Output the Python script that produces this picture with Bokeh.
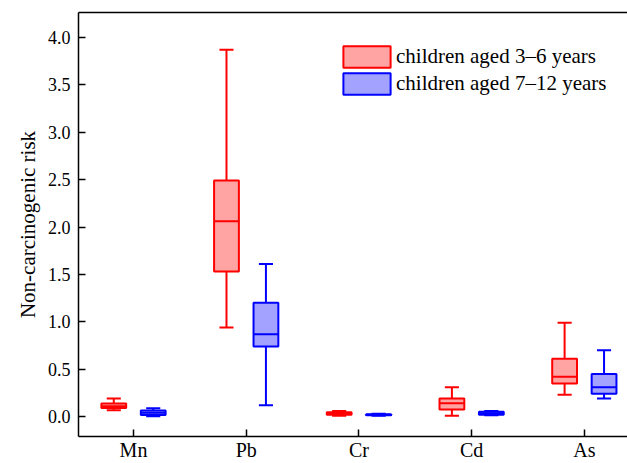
import numpy as np
from bokeh.plotting import figure
from bokeh.models import (Range1d, FixedTicker, LinearAxis, Legend, LegendItem,
                          ColumnDataSource)
from bokeh.embed import file_html
from bokeh.resources import INLINE

categories = ["Mn", "Pb", "Cr", "Cd", "As"]
series_names = ["children aged 3\u20136 years", "children aged 7\u201312 years"]

# children aged 3-6 years
young_min = [0.066, 0.94, 0.01, 0.01, 0.23]
young_q1 = [0.091, 1.53, 0.02, 0.075, 0.35]
young_med = [0.11, 2.06, 0.03, 0.14, 0.42]
young_q3 = [0.137, 2.49, 0.045, 0.19, 0.61]
young_max = [0.19, 3.87, 0.06, 0.31, 0.99]

# children aged 7-12 years
old_min = [0.003, 0.12, 0.01, 0.015, 0.19]
old_q1 = [0.018, 0.74, 0.015, 0.02, 0.24]
old_med = [0.04, 0.87, 0.02, 0.035, 0.31]
old_q3 = [0.063, 1.20, 0.025, 0.05, 0.45]
old_max = [0.087, 1.61, 0.03, 0.06, 0.70]

y_ticks = [0.0, 0.5, 1.0, 1.5, 2.0, 2.5, 3.0, 3.5, 4.0]

FONT = "Liberation Serif"

p = figure(width=627, height=463, output_backend="svg", toolbar_location=None,
           x_range=Range1d(-0.488, 4.383), y_range=Range1d(-0.21, 4.263),
           min_border_left=78, min_border_right=0, min_border_top=12,
           min_border_bottom=26)
p.outline_line_color = None
p.grid.visible = False
p.background_fill_color = "white"
p.border_fill_color = "white"

idx = np.arange(len(categories))
offset = 0.175
box_w = 0.22
cap_w = 0.125

groups = [
    (young_min, young_q1, young_med, young_q3, young_max, -offset, "#ff0000", "#ffa3a3"),
    (old_min, old_q1, old_med, old_q3, old_max, offset, "#0000ff", "#a3a3ff"),
]

legend_items = []
for (mn, q1, md, q3, mx, off, lc, fc), name in zip(groups, series_names):
    x = idx + off
    src = ColumnDataSource(dict(x=x, mn=mn, q1=q1, md=md, q3=q3, mx=mx,
                                cl=x - cap_w / 2, cr=x + cap_w / 2,
                                bl=x - box_w / 2, br=x + box_w / 2))
    p.segment(x0="x", y0="q3", x1="x", y1="mx", source=src, line_color=lc, line_width=2)
    p.segment(x0="x", y0="mn", x1="x", y1="q1", source=src, line_color=lc, line_width=2)
    p.segment(x0="cl", y0="mx", x1="cr", y1="mx", source=src, line_color=lc, line_width=2)
    p.segment(x0="cl", y0="mn", x1="cr", y1="mn", source=src, line_color=lc, line_width=2)
    box = p.vbar(x="x", width=box_w, top="q3", bottom="q1", source=src,
                 fill_color=fc, line_color=lc, line_width=2)
    p.segment(x0="bl", y0="md", x1="br", y1="md", source=src, line_color=lc, line_width=2)
    legend_items.append(LegendItem(label=name, renderers=[box]))

# axes
xa = p.xaxis[0]
xa.ticker = FixedTicker(ticks=list(idx))
xa.major_label_overrides = {int(i): c for i, c in zip(idx, categories)}
xa.major_tick_in = 7
xa.major_tick_out = 0
xa.minor_tick_line_color = None
xa.axis_line_width = 1.5
xa.major_tick_line_width = 1.5
xa.major_label_text_font = FONT
xa.major_label_text_font_size = "20px"
xa.major_label_text_color = "black"
xa.major_label_standoff = 2

ya = p.yaxis[0]
ya.ticker = FixedTicker(ticks=y_ticks)
ya.major_label_overrides = {t: f"{t:.1f}" for t in y_ticks}
ya.major_tick_in = 7
ya.major_tick_out = 0
ya.minor_tick_line_color = None
ya.axis_line_width = 1.5
ya.major_tick_line_width = 1.5
ya.major_label_text_font = FONT
ya.major_label_text_font_size = "18px"
ya.major_label_text_color = "black"
ya.major_label_standoff = 8
ya.axis_label = "Non-carcinogenic risk"
ya.axis_label_text_font = FONT
ya.axis_label_text_font_size = "21px"
ya.axis_label_text_font_style = "normal"
ya.axis_label_text_color = "black"
ya.axis_label_standoff = 5

top = LinearAxis(ticker=FixedTicker(ticks=[]), axis_line_width=1.5,
                 major_tick_line_color=None, minor_tick_line_color=None,
                 major_label_text_font_size="0px")
p.add_layout(top, "above")

legend = Legend(items=legend_items, location=(259, 339), orientation="vertical",
                glyph_width=59, glyph_height=27, label_height=27, spacing=0,
                label_standoff=0, padding=0, margin=0, border_line_color=None,
                background_fill_alpha=0, label_text_font=FONT,
                label_text_font_size="21px", label_text_color="black")
p.add_layout(legend, "center")

open("out.html", "w").write(file_html(p, INLINE))
